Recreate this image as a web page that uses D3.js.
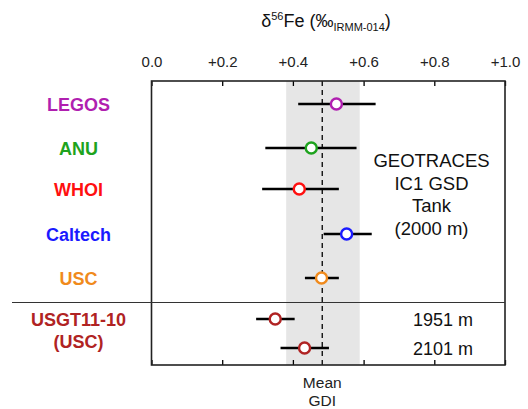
<!DOCTYPE html>
<html>
<head>
<meta charset="utf-8">
<title>Fe isotopes</title>
<script src="https://cdn.jsdelivr.net/npm/d3@7"></script>
<style>
  body { margin: 0; background: #fff; }
  svg text { font-family: "Liberation Sans", Arial, Helvetica, sans-serif; }
</style>
</head>
<body>
<div id="chart"></div>
<script>
// labs and samples
var labs = ["LEGOS", "ANU", "WHOI", "Caltech", "USC", "1951 m", "2101 m"];
var labColors = ["#b01fb0", "#1ea31e", "#ff1010", "#1a1aff", "#f08a1c", "#b02323", "#b02323"];
var means = [0.523, 0.452, 0.418, 0.552, 0.481, 0.350, 0.433];
var lows  = [0.415, 0.322, 0.313, 0.487, 0.434, 0.296, 0.365];
var highs = [0.634, 0.580, 0.530, 0.623, 0.530, 0.405, 0.502];
var rowY  = [104, 148, 189, 234, 278, 319, 348];   // row centres
var ticks = [0, 0.2, 0.4, 0.6, 0.8, 1.0];
var gdiMean = 0.483;
var gdiBand = [0.381, 0.589];

var W = 528, H = 409;
// note: "top" is reserved on window, so use plot* names
var plotL = 151.5, plotR = 505, plotT = 81, plotB = 365;

var svg = d3.select("#chart").append("svg")
  .attr("width", W).attr("height", H);

var x = d3.scaleLinear().domain([0, 1]).range([plotL, plotR]);

// grey band around mean
svg.append("rect")
  .attr("x", x(gdiBand[0])).attr("y", plotT)
  .attr("width", x(gdiBand[1]) - x(gdiBand[0]))
  .attr("height", plotB - plotT)
  .attr("fill", "#e6e6e6");

// dashed mean line
svg.append("line")
  .attr("x1", x(gdiMean)).attr("x2", x(gdiMean))
  .attr("y1", plotT).attr("y2", plotB)
  .attr("stroke", "#000").attr("stroke-width", 1.3)
  .attr("stroke-dasharray", "5,4");

// axes: labels on top, ticks inward on top and bottom
var fmt = function (d) { return d === 0 ? "0.0" : "+" + d3.format(".1f")(d); };
var topAxis = d3.axisTop(x).tickValues(ticks).tickFormat(fmt).tickSizeInner(-5).tickSizeOuter(0).tickPadding(14);
var gTop = svg.append("g").attr("transform", "translate(0," + plotT + ")").call(topAxis);
gTop.select(".domain").remove();
gTop.selectAll("line").attr("stroke-width", 1.3);
gTop.selectAll("text").attr("font-size", 15).attr("fill", "#222")
  .attr("font-family", "Liberation Sans, Arial, sans-serif");

var botAxis = d3.axisBottom(x).tickValues(ticks).tickFormat("").tickSizeInner(-5).tickSizeOuter(0);
var gBot = svg.append("g").attr("transform", "translate(0," + plotB + ")").call(botAxis);
gBot.select(".domain").remove();
gBot.selectAll("line").attr("stroke-width", 1.3);

// frame
svg.append("rect")
  .attr("x", plotL).attr("y", plotT)
  .attr("width", plotR - plotL).attr("height", plotB - plotT)
  .attr("fill", "none").attr("stroke", "#222").attr("stroke-width", 1.6);

// separator between standards and samples
svg.append("line")
  .attr("x1", 12).attr("x2", plotR)
  .attr("y1", 302.5).attr("y2", 302.5)
  .attr("stroke", "#333").attr("stroke-width", 1.2);

// error bars
svg.selectAll("line.err").data(labs).enter().append("line")
  .attr("class", "err")
  .attr("x1", function (d, i) { return x(lows[i]); })
  .attr("x2", function (d, i) { return x(highs[i]); })
  .attr("y1", function (d, i) { return rowY[i]; })
  .attr("y2", function (d, i) { return rowY[i]; })
  .attr("stroke", "#000").attr("stroke-width", 2.3);

// points
svg.selectAll("circle.pt").data(labs).enter().append("circle")
  .attr("class", "pt")
  .attr("cx", function (d, i) { return x(means[i]); })
  .attr("cy", function (d, i) { return rowY[i]; })
  .attr("r", 5.5)
  .attr("fill", "#fff")
  .attr("stroke", function (d, i) { return labColors[i]; })
  .attr("stroke-width", 2.4);

// lab names on the left
svg.selectAll("text.lab").data(labs.slice(0, 5)).enter().append("text")
  .attr("class", "lab")
  .attr("x", 78.5)
  .attr("y", function (d, i) { return rowY[i] + 7; })
  .attr("text-anchor", "middle")
  .attr("font-size", 18).attr("font-weight", "bold")
  .attr("fill", function (d, i) { return labColors[i]; })
  .text(function (d) { return d; });

var sample = svg.append("text")
  .attr("text-anchor", "middle")
  .attr("font-size", 18).attr("font-weight", "bold")
  .attr("fill", labColors[5]);
sample.append("tspan").attr("x", 78.5).attr("y", 325.5).text("USGT11-10");
sample.append("tspan").attr("x", 78.5).attr("y", 347.5).text("(USC)");

// depth labels
svg.selectAll("text.depth").data(labs.slice(5)).enter().append("text")
  .attr("class", "depth")
  .attr("x", 443).attr("text-anchor", "middle")
  .attr("y", function (d, i) { return rowY[i + 5] + 6.5; })
  .attr("font-size", 18).attr("fill", "#111")
  .text(function (d) { return d; });

// standard description
var desc = ["GEOTRACES", "IC1 GSD", "Tank", "(2000 m)"];
svg.selectAll("text.desc").data(desc).enter().append("text")
  .attr("class", "desc")
  .attr("x", 431.5).attr("text-anchor", "middle")
  .attr("y", function (d, i) { return 167 + i * 22.7; })
  .attr("font-size", 18.5).attr("fill", "#111")
  .text(function (d) { return d; });

// mean GDI label
var mean = svg.append("text").attr("text-anchor", "middle")
  .attr("font-size", 15.5).attr("fill", "#222");
mean.append("tspan").attr("x", x(gdiMean)).attr("y", 388).text("Mean");
mean.append("tspan").attr("x", x(gdiMean)).attr("y", 405.5).text("GDI");

// title
var title = svg.append("text").attr("x", 326).attr("y", 27)
  .attr("text-anchor", "middle").attr("font-size", 18).attr("fill", "#111");
title.append("tspan").text("\u03b4");
title.append("tspan").attr("font-size", 11).attr("dy", -7).text("56");
title.append("tspan").attr("dy", 7).text("Fe (\u2030");
title.append("tspan").attr("font-size", 11).attr("dy", 4).text("IRMM-014");
title.append("tspan").attr("dy", -4).text(")");
</script>
</body>
</html>
